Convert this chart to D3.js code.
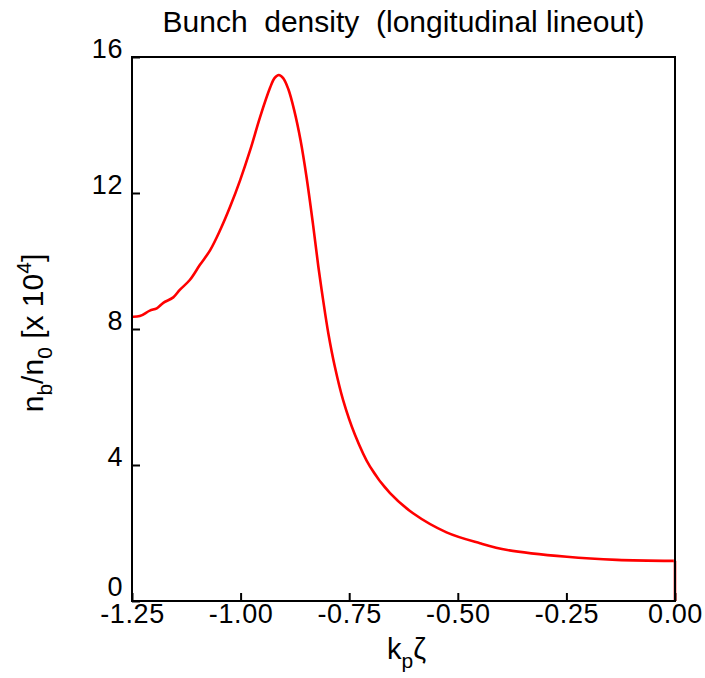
<!DOCTYPE html>
<html>
<head>
<meta charset="utf-8">
<script src="https://cdn.jsdelivr.net/npm/d3@7/dist/d3.min.js"></script>
<style>
  body { margin: 0; background: #fff; }
  text { font-family: "Liberation Sans", Arial, Helvetica, sans-serif; fill: #000; }
</style>
</head>
<body>
<div id="chart"></div>
<script>

// longitudinal lineout of the bunch density
var kpZeta = [-1.25, -1.232, -1.209, -1.193, -1.178, -1.155, -1.14, -1.117, -1.094, -1.07,
  -1.047, -1.024, -1.001, -0.978, -0.955, -0.932, -0.922, -0.912, -0.902, -0.89,
  -0.876, -0.862, -0.848, -0.833, -0.821, -0.81, -0.798, -0.783, -0.764, -0.737,
  -0.702, -0.656, -0.603, -0.526, -0.449, -0.386, -0.249, -0.134, -0.004];
var density = [8.36, 8.38, 8.54, 8.61, 8.77, 8.93, 9.15, 9.44, 9.88, 10.32,
  10.91, 11.6, 12.38, 13.26, 14.24, 15.1, 15.38, 15.47, 15.38, 15.05,
  14.4, 13.55, 12.45, 11.05, 9.83, 8.85, 7.87, 6.89, 5.91, 4.9,
  3.95, 3.17, 2.58, 2.02, 1.7, 1.5, 1.3, 1.21, 1.18];

var xTicks = [-1.25, -1.00, -0.75, -0.50, -0.25, 0.00];
var yTicks = [0, 4, 8, 12, 16];

var titleText = "Bunch  density  (longitudinal lineout)";

var margin = {top: 57, right: 30, bottom: 77, left: 132};
var width = 705 - margin.left - margin.right;
var height = 678 - margin.top - margin.bottom;

var svg = d3.select("#chart").append("svg")
  .attr("width", 705)
  .attr("height", 678);

var g = svg.append("g")
  .attr("transform", "translate(" + margin.left + "," + margin.top + ")");

var x = d3.scaleLinear().domain([-1.25, 0]).range([0, width]);
var y = d3.scaleLinear().domain([0, 16]).range([height, 0]);

// title (keep the double spaces)
svg.append("text")
  .attr("x", margin.left + width / 2)
  .attr("y", 32)
  .attr("text-anchor", "middle")
  .style("font-size", "30px")
  .style("white-space", "pre")
  .text(titleText);

// x axis, ticks pointing inward
var xAxis = g.append("g")
  .attr("transform", "translate(0," + height + ")")
  .call(d3.axisBottom(x).tickValues(xTicks).tickSizeInner(-8).tickSizeOuter(0));
xAxis.select(".domain").remove();
xAxis.selectAll("line").attr("stroke", "#000").attr("stroke-width", 2);
xAxis.selectAll("text")
  .attr("y", 22)
  .attr("dy", 0)
  .style("font-size", "27px")
  .style("letter-spacing", "0.6px")
  .text(function(d) { return d3.format(".2f")(d).replace("−", "-"); });

// y axis
var yAxis = g.append("g")
  .call(d3.axisLeft(y).tickValues(yTicks).tickSizeInner(-8).tickSizeOuter(0));
yAxis.select(".domain").remove();
yAxis.selectAll("line").attr("stroke", "#000").attr("stroke-width", 2);
yAxis.selectAll("text")
  .attr("x", -9)
  .attr("dy", function(d) { return d == 0 ? -6 : 0; })
  .style("font-size", "27px")
  .style("letter-spacing", "0.6px");

// the curve, then the drop to zero at the right edge
var line = d3.line()
  .x(function(d, i) { return x(kpZeta[i]); })
  .y(function(d) { return y(d); })
  .curve(d3.curveCatmullRom.alpha(0.5));

g.append("path")
  .datum(density)
  .attr("fill", "none")
  .attr("stroke", "#ff0000")
  .attr("stroke-width", 2.6)
  .attr("d", line);

var last = density.length - 1;
g.append("line")
  .attr("x1", x(0)).attr("x2", x(0))
  .attr("y1", y(density[last])).attr("y2", y(0))
  .attr("stroke", "#ff0000")
  .attr("stroke-width", 2.6);
g.append("line")
  .attr("x1", x(kpZeta[last])).attr("x2", x(0))
  .attr("y1", y(density[last])).attr("y2", y(density[last]))
  .attr("stroke", "#ff0000")
  .attr("stroke-width", 2.6);

// frame
g.append("rect")
  .attr("width", width)
  .attr("height", height)
  .attr("fill", "none")
  .attr("stroke", "#000")
  .attr("stroke-width", 2);

// axis titles
var xl = svg.append("text")
  .attr("x", margin.left + width / 2 + 3)
  .attr("y", 659)
  .attr("text-anchor", "middle")
  .style("font-size", "29px");
xl.append("tspan").text("k");
xl.append("tspan").attr("dy", 9).style("font-size", "21px").text("p");
xl.append("tspan").attr("dy", -9).text("ζ");

var yl = svg.append("text")
  .attr("transform", "translate(43," + (margin.top + height / 2 + 4) + ") rotate(-90)")
  .attr("text-anchor", "middle")
  .style("font-size", "30px");
yl.append("tspan").text("n");
yl.append("tspan").attr("dy", 9).style("font-size", "21px").text("b");
yl.append("tspan").attr("dy", -9).text("/n");
yl.append("tspan").attr("dy", 9).style("font-size", "21px").text("0");
yl.append("tspan").attr("dy", -9).text(" [x 10");
yl.append("tspan").attr("dy", -12).style("font-size", "21px").text("4");
yl.append("tspan").attr("dy", 12).text("]");

</script>
</body>
</html>
